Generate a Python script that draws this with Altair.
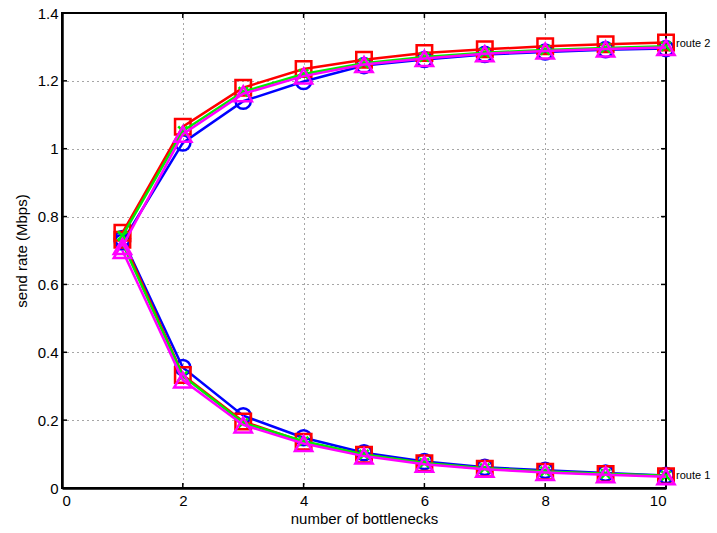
import altair as alt
import pandas as pd

x_vals = [1, 2, 3, 4, 5, 6, 7, 8, 9, 10]

# route 2 (upper curves)
blue_r2 = [0.725, 1.017, 1.140, 1.198, 1.245, 1.263, 1.278, 1.285, 1.292, 1.295]
red_r2 = [0.752, 1.065, 1.180, 1.235, 1.262, 1.282, 1.293, 1.302, 1.308, 1.313]
green_r2 = [0.743, 1.052, 1.168, 1.220, 1.252, 1.270, 1.283, 1.291, 1.297, 1.302]
magenta_r2 = [0.712, 1.043, 1.162, 1.214, 1.248, 1.266, 1.280, 1.288, 1.294, 1.298]

# route 1 (lower curves)
blue_r1 = [0.735, 0.355, 0.213, 0.148, 0.104, 0.078, 0.061, 0.052, 0.044, 0.037]
red_r1 = [0.732, 0.333, 0.196, 0.136, 0.098, 0.073, 0.057, 0.048, 0.041, 0.035]
green_r1 = [0.722, 0.330, 0.192, 0.138, 0.099, 0.074, 0.058, 0.049, 0.042, 0.036]
magenta_r1 = [0.700, 0.318, 0.186, 0.131, 0.094, 0.070, 0.055, 0.046, 0.039, 0.033]

series_names = ["blue", "red", "green", "magenta"]
series_colors = ["#0000ff", "#ff0000", "#00ee00", "#ff00ff"]
series_shapes = ["circle", "square", "M-0.75,-0.75L0.75,0.75M-0.75,0.75L0.75,-0.75", "triangle-up"]
series_sizes = [230, 240, 150, 300]
series_r1 = [blue_r1, red_r1, green_r1, magenta_r1]
series_r2 = [blue_r2, red_r2, green_r2, magenta_r2]

label_texts = ["route 2", "route 1"]
label_x = [10, 10]
label_y = [1.31, 0.035]

x_ticks = [0, 2, 4, 6, 8, 10]
y_ticks = [0, 0.2, 0.4, 0.6, 0.8, 1, 1.2, 1.4]

W, H = 604, 475
FONT = "Liberation Sans"

xscale = alt.Scale(domain=[0, 10], nice=False, zero=False)
yscale = alt.Scale(domain=[0, 1.4], nice=False, zero=False)

layers = []

xtick_df = pd.DataFrame({"v": x_ticks})
ytick_df = pd.DataFrame({"v": y_ticks})

base_axes = alt.Chart(xtick_df).mark_rule(opacity=0).encode(
    x=alt.X("v:Q", scale=xscale,
            axis=alt.Axis(values=x_ticks, title="number of bottlenecks", grid=True,
                          format="d", labelPadding=5, titlePadding=3)),
)
layers.append(base_axes)

base_y = alt.Chart(ytick_df).mark_rule(opacity=0).encode(
    y=alt.Y("v:Q", scale=yscale,
            axis=alt.Axis(values=y_ticks, title="send rate (Mbps)", grid=True,
                          labelPadding=4, titlePadding=8,
                          labelExpr="datum.value == 0 ? '0' : format(datum.value, '.1~f')")),
)
layers.append(base_y)

# inward ticks
tick_len = 5
layers.append(alt.Chart(ytick_df).mark_rule(color="black", strokeWidth=1.5).encode(
    y=alt.Y("v:Q", scale=yscale), x=alt.value(0), x2=alt.value(tick_len)))
layers.append(alt.Chart(ytick_df).mark_rule(color="black", strokeWidth=1.5).encode(
    y=alt.Y("v:Q", scale=yscale), x=alt.value(W - tick_len), x2=alt.value(W)))
layers.append(alt.Chart(xtick_df).mark_rule(color="black", strokeWidth=1.5).encode(
    x=alt.X("v:Q", scale=xscale), y=alt.value(H - tick_len), y2=alt.value(H)))
layers.append(alt.Chart(xtick_df).mark_rule(color="black", strokeWidth=1.5).encode(
    x=alt.X("v:Q", scale=xscale), y=alt.value(0), y2=alt.value(tick_len)))

for name, col, shp, sz, r1, r2 in zip(series_names, series_colors, series_shapes,
                                     series_sizes, series_r1, series_r2):
    rows = []
    for xv, yv in zip(x_vals, r1):
        rows.append({"x": xv, "y": yv, "route": "route 1"})
    for xv, yv in zip(x_vals, r2):
        rows.append({"x": xv, "y": yv, "route": "route 2"})
    df = pd.DataFrame(rows)
    line = alt.Chart(df).mark_line(color=col, strokeWidth=2.5).encode(
        x=alt.X("x:Q", scale=xscale),
        y=alt.Y("y:Q", scale=yscale),
        detail="route:N",
        order="x:Q",
    )
    pts = alt.Chart(df).mark_point(shape=shp, size=sz, color=col, filled=False,
                                   strokeWidth=2.5, opacity=1).encode(
        x=alt.X("x:Q", scale=xscale),
        y=alt.Y("y:Q", scale=yscale),
    )
    layers.append(line)
    layers.append(pts)

label_df = pd.DataFrame({"t": label_texts, "x": label_x, "y": label_y})
layers.append(alt.Chart(label_df).mark_text(align="left", baseline="middle", dx=10,
                                            fontSize=11, font=FONT, color="black").encode(
    x=alt.X("x:Q", scale=xscale), y=alt.Y("y:Q", scale=yscale), text="t:N"))

chart = alt.layer(*layers).properties(
    width=W, height=H,
    background="white",
    autosize=alt.AutoSizeParams(type="none"),
    padding={"left": 62, "top": 13, "right": 51, "bottom": 45},
).configure_view(
    stroke="black", strokeWidth=2,
).configure_axis(
    domain=True, domainColor="black", domainWidth=2.5,
    ticks=False,
    gridColor="black", gridDash=[1, 4], gridOpacity=0.7, gridWidth=1,
    labelFont=FONT, labelFontSize=15, labelColor="black",
    titleFont=FONT, titleFontSize=15, titleFontWeight="normal", titleColor="black",
)

chart.save("out.html", embed_options={"renderer": "svg", "actions": False})
